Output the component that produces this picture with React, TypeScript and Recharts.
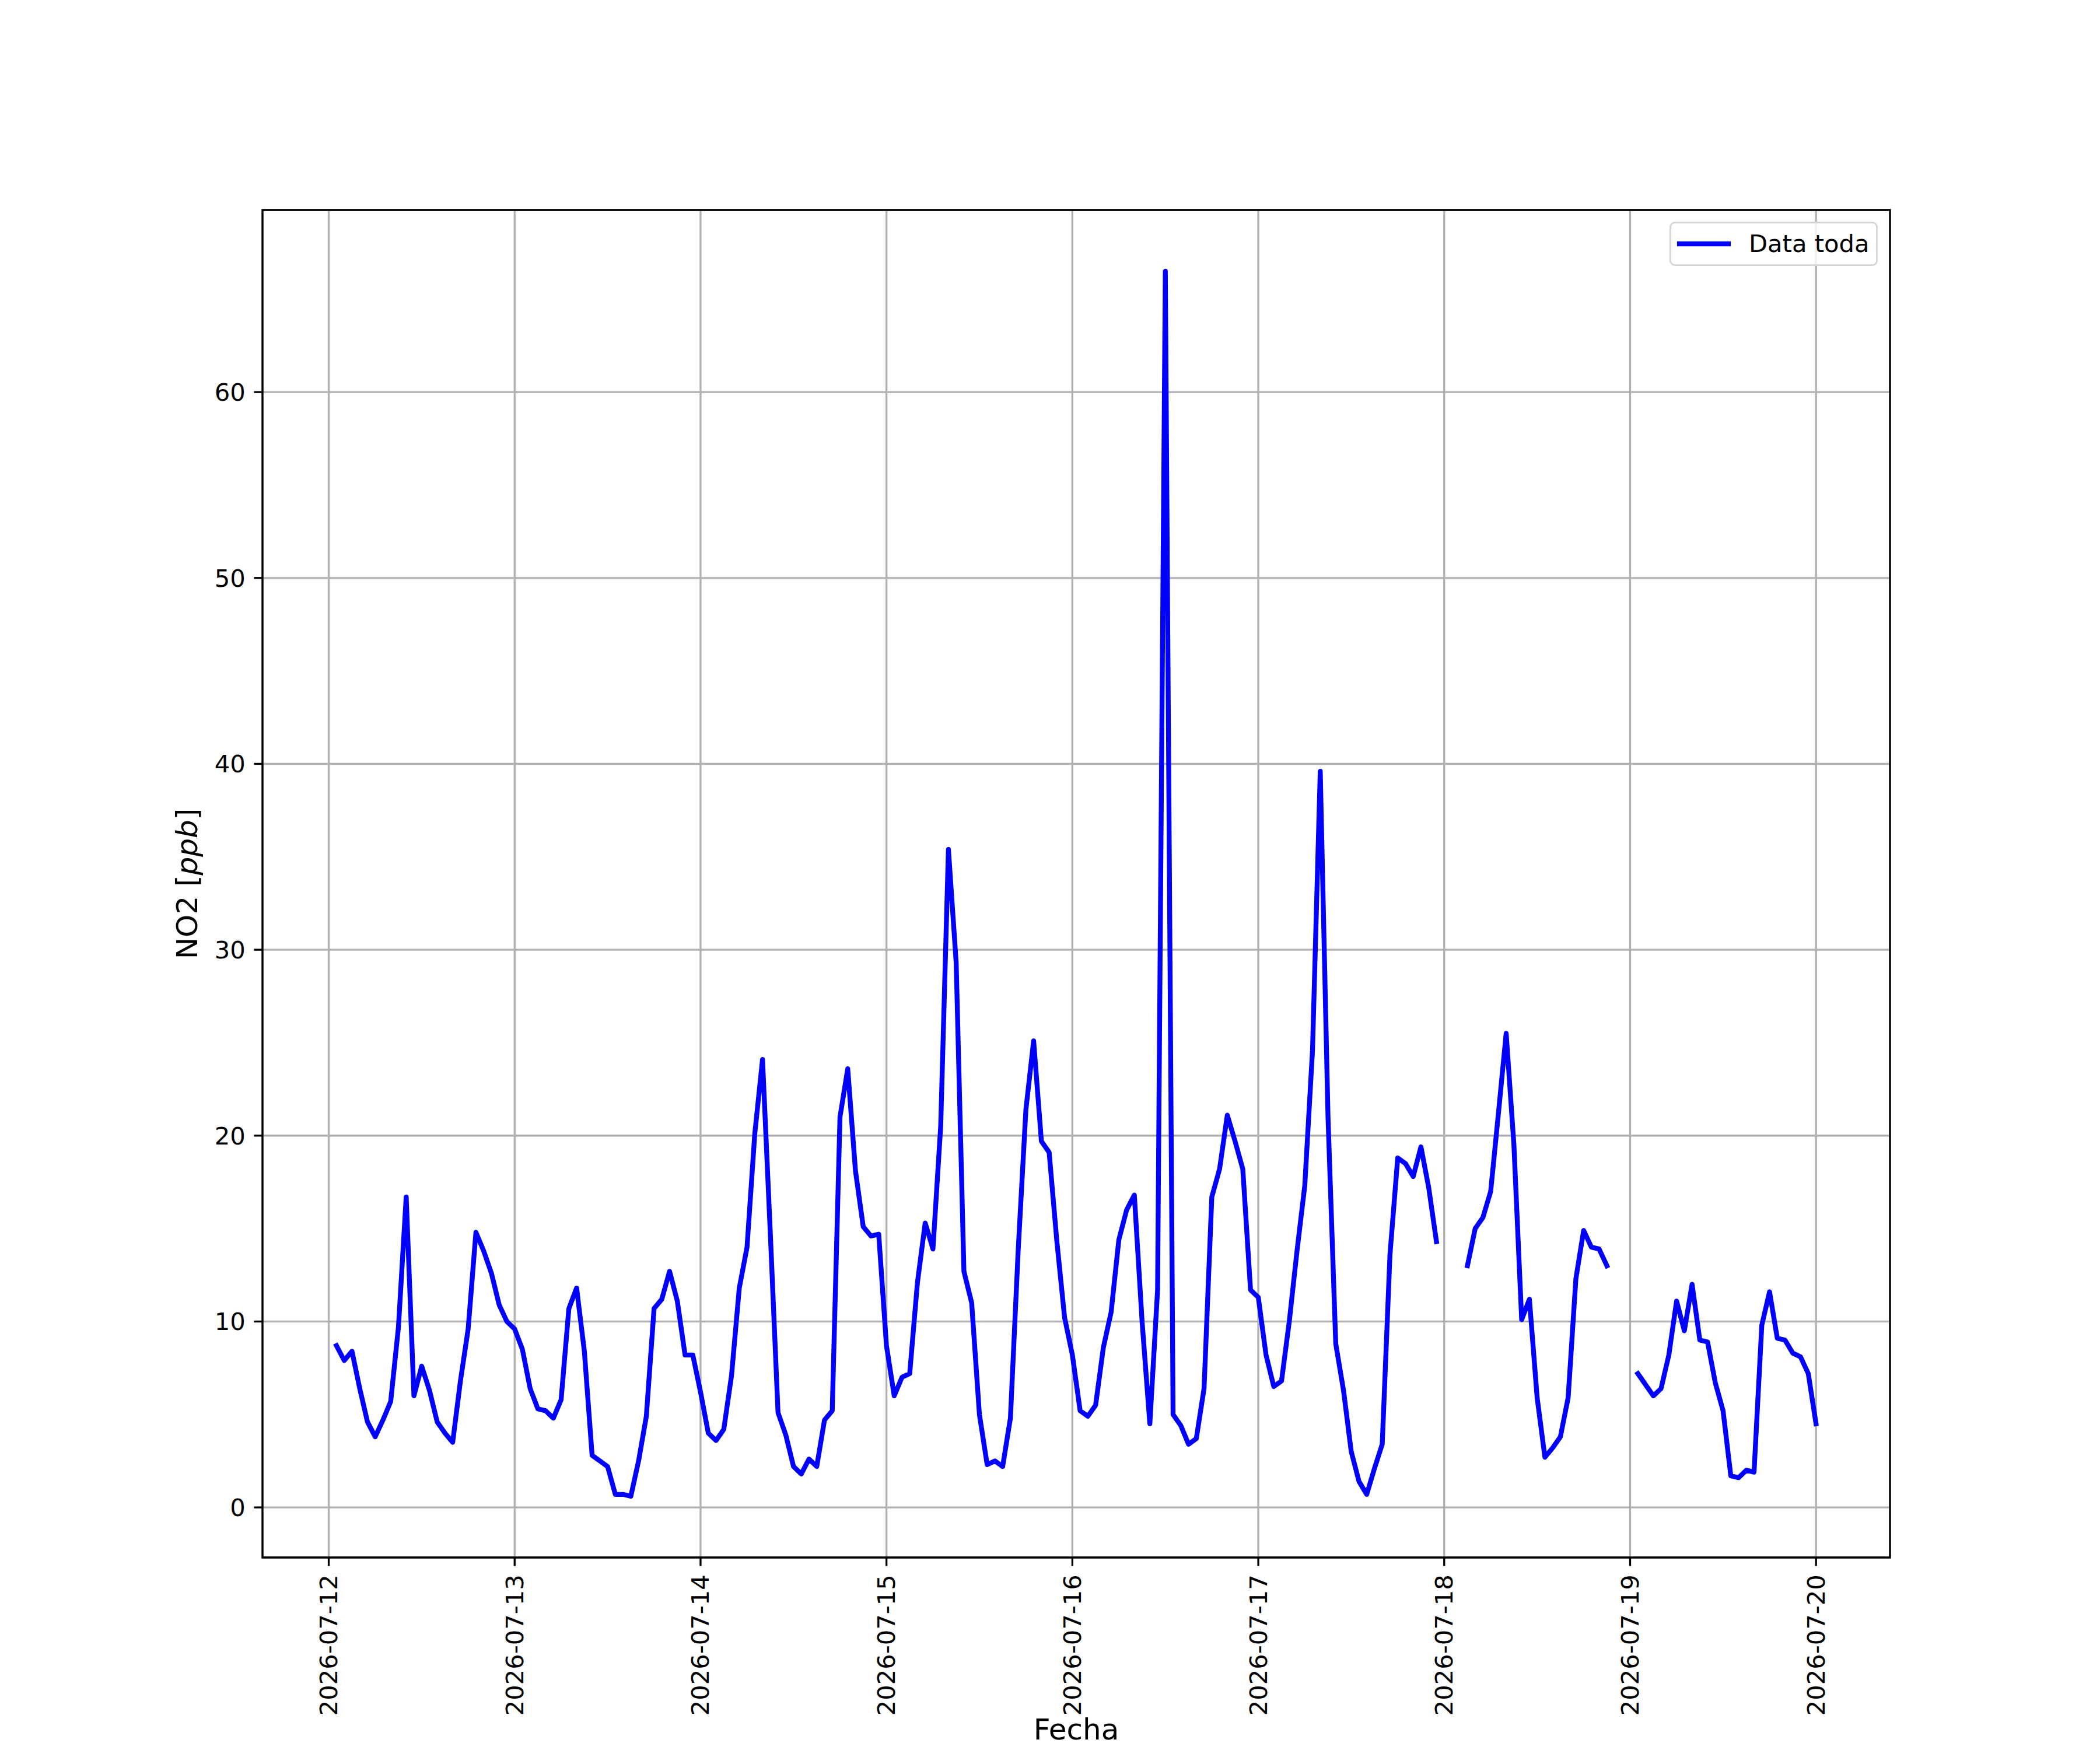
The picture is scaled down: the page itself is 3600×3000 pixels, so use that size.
import { LineChart, Line, XAxis, YAxis, CartesianGrid, Legend, ReferenceArea } from 'recharts';

// one label per day tick
const DAY_LABELS = [
  '2026-07-12', '2026-07-13', '2026-07-14', '2026-07-15', '2026-07-16',
  '2026-07-17', '2026-07-18', '2026-07-19', '2026-07-20',
];

// hourly NO2 [ppb], index = hour of the day (null = no data)
const NO2_JUL12 = [null, 8.7, 7.9, 8.4, 6.4, 4.6, 3.8, 4.7, 5.7, 9.7, 16.7, 6.0, 7.6, 6.3, 4.6, 4.0, 3.5, 6.8, 9.6, 14.8, 13.8, 12.6, 10.9, 10.0];
const NO2_JUL13 = [9.6, 8.5, 6.4, 5.3, 5.2, 4.8, 5.8, 10.7, 11.8, 8.4, 2.8, 2.5, 2.2, 0.7, 0.7, 0.6, 2.5, 4.9, 10.7, 11.2, 12.7, 11.1, 8.2, 8.2];
const NO2_JUL14 = [6.2, 4.0, 3.6, 4.2, 7.1, 11.8, 14.0, 20.1, 24.1, 14.8, 5.1, 3.9, 2.2, 1.8, 2.6, 2.2, 4.7, 5.2, 21.0, 23.6, 18.1, 15.1, 14.6, 14.7];
const NO2_JUL15 = [8.7, 6.0, 7.0, 7.2, 12.1, 15.3, 13.9, 20.5, 35.4, 29.3, 12.7, 11.0, 5.0, 2.3, 2.5, 2.2, 4.8, 13.8, 21.4, 25.1, 19.7, 19.1, 14.3, 10.2];
const NO2_JUL16 = [8.2, 5.2, 4.9, 5.5, 8.6, 10.5, 14.4, 16.0, 16.8, 10.0, 4.5, 11.7, 66.5, 5.0, 4.4, 3.4, 3.7, 6.4, 16.7, 18.2, 21.1, 19.7, 18.2, 11.7];
const NO2_JUL17 = [11.3, 8.2, 6.5, 6.8, 10.0, 13.8, 17.3, 24.6, 39.6, 21.0, 8.8, 6.3, 3.0, 1.4, 0.7, 2.1, 3.4, 13.6, 18.8, 18.5, 17.8, 19.4, 17.2, 14.3];
const NO2_JUL18 = [null, null, null, 13.0, 15.0, 15.6, 17.0, 21.2, 25.5, 19.5, 10.1, 11.2, 5.9, 2.7, 3.2, 3.8, 5.9, 12.3, 14.9, 14.0, 13.9, 13.0, null, null];
const NO2_JUL19 = [null, 7.2, 6.6, 6.0, 6.4, 8.2, 11.1, 9.5, 12.0, 9.0, 8.9, 6.7, 5.2, 1.7, 1.6, 2.0, 1.9, 9.8, 11.6, 9.1, 9.0, 8.3, 8.1, 7.2];
const NO2_JUL20 = [4.5];

const Y_TICKS = [0, 10, 20, 30, 40, 50, 60];

const DAYS = [NO2_JUL12, NO2_JUL13, NO2_JUL14, NO2_JUL15, NO2_JUL16, NO2_JUL17, NO2_JUL18, NO2_JUL19, NO2_JUL20];

const data: { t: number; no2: number | null }[] = [];
DAYS.forEach((day, d) => {
  day.forEach((v, h) => data.push({ t: d * 24 + h, no2: v }));
});

// matplotlib-style autoscale: 5% margin around the data
const valid = data.filter((p) => p.no2 !== null);
const tMin = valid[0].t;
const tMax = valid[valid.length - 1].t;
const vMin = Math.min(...valid.map((p) => p.no2 as number));
const vMax = Math.max(...valid.map((p) => p.no2 as number));
const X_DOMAIN: [number, number] = [tMin - 0.05 * (tMax - tMin), tMax + 0.05 * (tMax - tMin)];
const Y_DOMAIN: [number, number] = [vMin - 0.05 * (vMax - vMin), vMax + 0.05 * (vMax - vMin)];
const X_TICKS = DAY_LABELS.map((_, i) => i * 24);

const PT = 300 / 72;
const FONT = 10 * PT;
const TICK = 3.5 * PT;
const LW = 0.8 * PT;
const LINE_W = 2 * PT;

function DateTick({ x, y, payload }: any) {
  return (
    <text
      x={x}
      y={y}
      transform={`rotate(-90 ${x} ${y})`}
      textAnchor="end"
      dominantBaseline="central"
      fontSize={FONT}
      fill="#000"
    >
      {DAY_LABELS[Math.round(payload.value / 24)]}
    </text>
  );
}

function XLabel({ viewBox }: any) {
  return (
    <text x={viewBox.x + viewBox.width / 2} y={viewBox.y + 312} textAnchor="middle" fontSize={12 * PT} fill="#000">
      Fecha
    </text>
  );
}

function YLabel({ viewBox }: any) {
  const x = viewBox.x + 88;
  const y = viewBox.y + viewBox.height / 2;
  return (
    <text x={x} y={y} transform={`rotate(-90 ${x} ${y})`} textAnchor="middle" fontSize={12 * PT} fill="#000">
      NO2 [<tspan fontStyle="italic">ppb</tspan>]
    </text>
  );
}

function LegendBox({ payload }: any) {
  return (
    <div
      style={{
        position: 'relative',
        width: 357,
        height: 76,
        boxSizing: 'border-box',
        border: `${LW}px solid #d6d6d6`,
        borderRadius: 9,
        background: 'rgba(255,255,255,0.8)',
      }}
    >
      {(payload || []).map((entry: any) => (
        <div key={entry.value}>
          <svg width={92} height={12} style={{ position: 'absolute', left: 10, top: 29 }}>
            <line x1={0} x2={92} y1={6} y2={6} stroke={entry.color} strokeWidth={LINE_W} />
          </svg>
          <span
            style={{
              position: 'absolute',
              left: 133,
              top: 10,
              fontSize: FONT,
              lineHeight: `${FONT * 1.2}px`,
              color: '#000',
              whiteSpace: 'nowrap',
            }}
          >
            {entry.value}
          </span>
        </div>
      ))}
    </div>
  );
}

export default function App() {
  return (
    <div style={{ position: 'absolute', left: 0, top: 0, background: '#fff', fontFamily: 'DejaVu Sans' }}>
      <LineChart width={3600} height={3000} data={data} margin={{ top: 360, right: 360, bottom: 30, left: 250 }}>
        <CartesianGrid stroke="#b0b0b0" strokeWidth={LW} />
        <XAxis
          dataKey="t"
          type="number"
          domain={X_DOMAIN}
          ticks={X_TICKS}
          interval={0}
          allowDataOverflow
          axisLine={false}
          tickSize={TICK}
          tickMargin={TICK}
          tickLine={{ stroke: '#000', strokeWidth: LW }}
          tick={<DateTick />}
          height={300}
          label={<XLabel />}
        />
        <YAxis
          type="number"
          domain={Y_DOMAIN}
          ticks={Y_TICKS}
          interval={0}
          allowDataOverflow
          axisLine={false}
          tickSize={TICK}
          tickMargin={TICK}
          tickLine={{ stroke: '#000', strokeWidth: LW }}
          tick={{ fontSize: FONT, fill: '#000' }}
          width={200}
          label={<YLabel />}
        />
        <Line
          type="linear"
          dataKey="no2"
          name="Data toda"
          stroke="#0000ff"
          strokeWidth={LINE_W}
          strokeLinejoin="round"
          strokeLinecap="square"
          dot={false}
          activeDot={false}
          connectNulls={false}
          isAnimationActive={false}
        />
        <ReferenceArea
          x1={X_DOMAIN[0]}
          x2={X_DOMAIN[1]}
          y1={Y_DOMAIN[0]}
          y2={Y_DOMAIN[1]}
          fill="none"
          stroke="#000"
          strokeWidth={LW}
          ifOverflow="visible"
        />
        <Legend
          layout="horizontal"
          verticalAlign="middle"
          align="center"
          content={<LegendBox />}
          wrapperStyle={{ position: 'absolute', left: 2862, top: 380, width: 357, height: 76 }}
        />
      </LineChart>
    </div>
  );
}
